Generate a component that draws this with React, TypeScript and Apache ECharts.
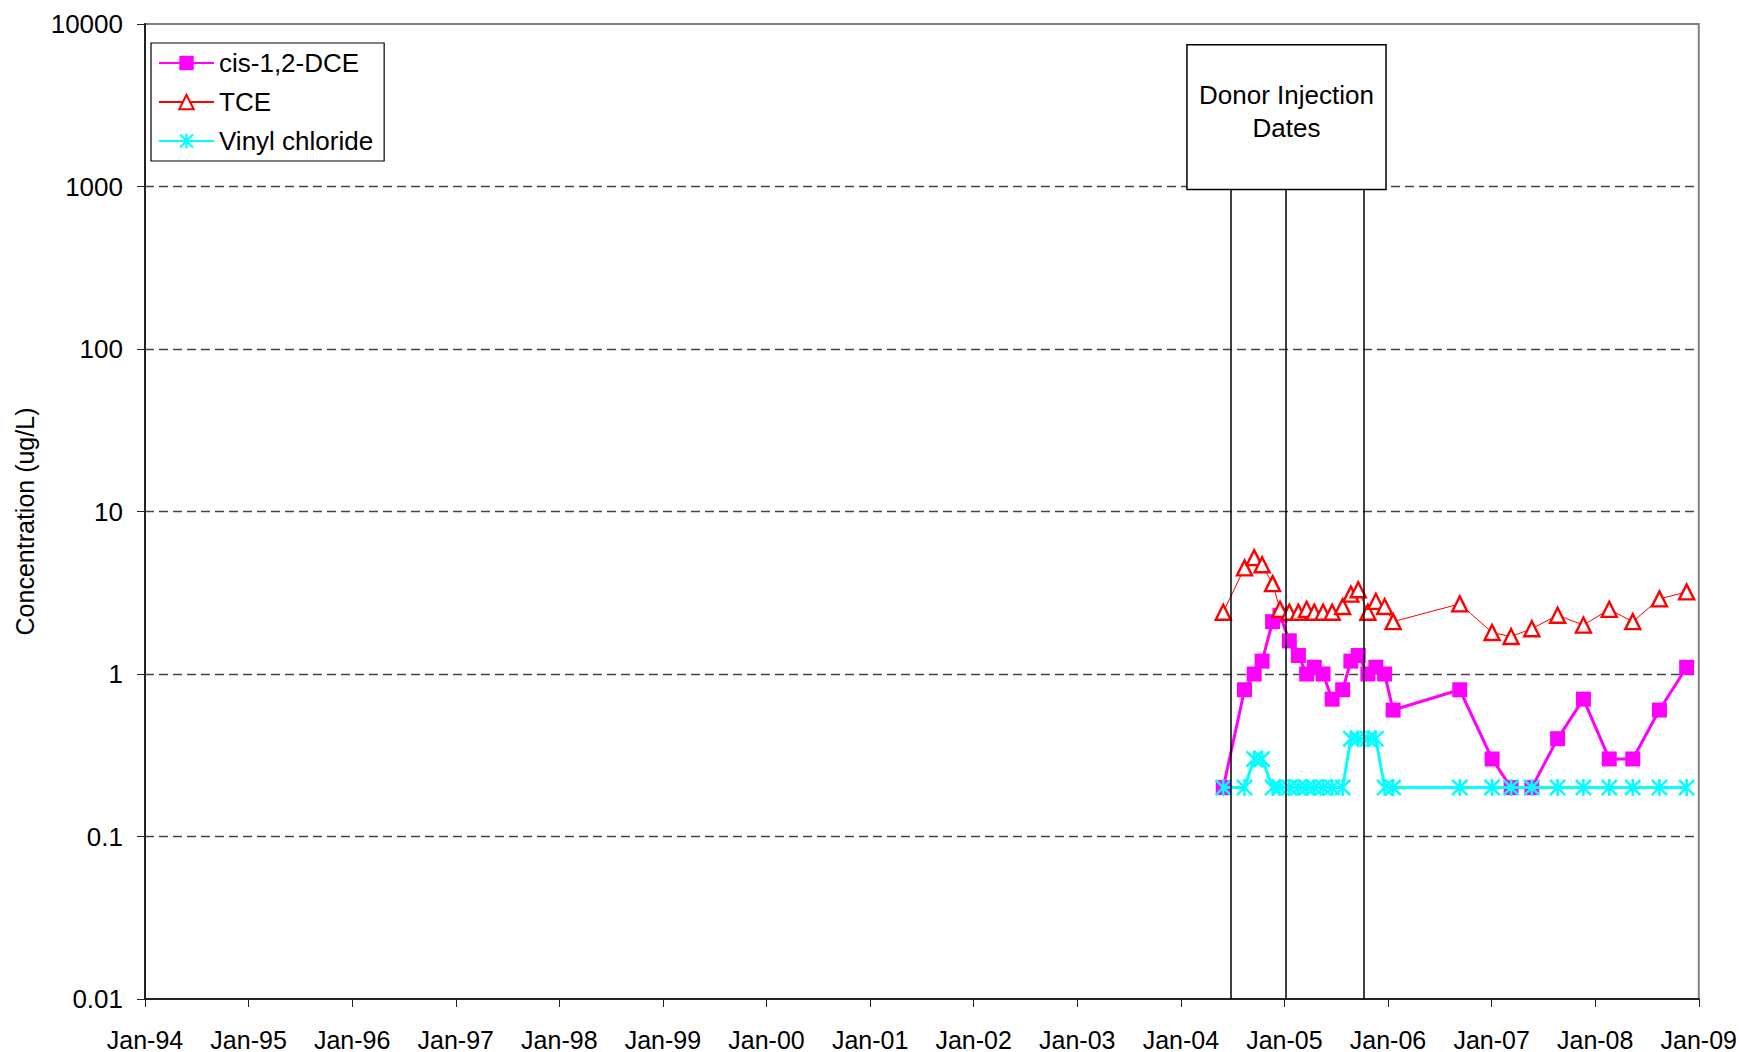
import React, { useEffect, useRef } from 'react';
import * as echarts from 'echarts';

// ---- Data ----
const sampleDates: string[] = [
  '2004-05-30', '2004-08-13', '2004-09-16', '2004-10-14', '2004-11-20', '2004-12-16',
  '2005-01-18', '2005-02-19', '2005-03-20', '2005-04-16', '2005-05-17', '2005-06-18',
  '2005-07-25', '2005-08-23', '2005-09-18', '2005-10-22', '2005-11-19', '2005-12-20',
  '2006-01-19', '2006-09-11', '2007-01-03', '2007-03-11', '2007-05-23', '2007-08-22',
  '2007-11-21', '2008-02-20', '2008-05-13', '2008-08-15', '2008-11-19',
];
const cisDCE: number[] = [
  0.2, 0.8, 1.0, 1.2, 2.1, 2.3, 1.6, 1.3, 1.0, 1.1, 1.0, 0.7, 0.8, 1.2, 1.3, 1.0, 1.1, 1.0,
  0.6, 0.8, 0.3, 0.2, 0.2, 0.4, 0.7, 0.3, 0.3, 0.6, 1.1,
];
const tce: number[] = [
  2.4, 4.5, 5.2, 4.7, 3.6, 2.5, 2.4, 2.4, 2.5, 2.4, 2.4, 2.4, 2.6, 3.1, 3.3, 2.4, 2.8, 2.6,
  2.1, 2.7, 1.8, 1.7, 1.9, 2.3, 2.0, 2.5, 2.1, 2.9, 3.2,
];
const vinylChloride: number[] = [
  0.2, 0.2, 0.3, 0.3, 0.2, 0.2, 0.2, 0.2, 0.2, 0.2, 0.2, 0.2, 0.2, 0.4, 0.4, 0.4, 0.4, 0.2,
  0.2, 0.2, 0.2, 0.2, 0.2, 0.2, 0.2, 0.2, 0.2, 0.2, 0.2,
];
const injectionDates: string[] = ['2004-06-27', '2005-01-07', '2005-10-09'];
const yTickValues: number[] = [0.01, 0.1, 1, 10, 100, 1000, 10000];
const seriesNames: string[] = ['cis-1,2-DCE', 'TCE', 'Vinyl chloride'];

// annotation box (data coordinates)
const boxStartDate = '2004-01-23';
const boxEndDate = '2005-12-25';
const boxBottomValue = 957;
const boxTopValue = 7460;
const boxText = 'Donor Injection\nDates';

const FONT = 'Arial, "Liberation Sans", sans-serif';
const DAY = 86400000;
const YEAR = 365.25 * DAY;
const X_MIN = Date.UTC(1994, 0, 1);
const X_MAX = X_MIN + 15 * YEAR;

const t = (s: string) => Date.parse(s);
const pairs = (vals: number[]) => sampleDates.map((d, i) => [t(d), vals[i]]);

const ASTERISK =
  'path://M8.5,0L11.5,0L11.5,20L8.5,20Z M2.1,0L20,17.9L17.9,20L0,2.1Z M17.9,0L20,2.1L2.1,20L0,17.9Z';

export default function App() {
  const ref = useRef<HTMLDivElement>(null);
  useEffect(() => {
    const chart = echarts.init(ref.current!, null, { renderer: 'svg' });
    const option: any = {
      animation: false,
      backgroundColor: '#ffffff',
      grid: {
        left: 145,
        right: 40,
        top: 24,
        bottom: 52,
        show: true,
        borderColor: '#808080',
        borderWidth: 2,
        backgroundColor: 'transparent',
      },
      legend: {
        data: seriesNames,
        orient: 'vertical',
        left: 151,
        top: 43,
        itemWidth: 55,
        itemHeight: 18,
        itemGap: 13,
        padding: [7, 11, 7, 7],
        borderColor: '#000',
        borderWidth: 1.2,
        backgroundColor: '#fff',
        textStyle: { fontSize: 26, fontFamily: FONT, color: '#000' },
      },
      xAxis: {
        type: 'value',
        min: X_MIN,
        max: X_MAX,
        interval: YEAR,
        axisLine: { show: true, lineStyle: { color: '#222', width: 2 } },
        axisTick: { show: true, length: 8, lineStyle: { color: '#222', width: 1 } },
        splitLine: { show: false },
        axisLabel: {
          fontSize: 25,
          fontFamily: FONT,
          color: '#000',
          margin: 28,
          formatter: (v: number) => {
            const d = new Date(v + 0.5 * DAY);
            return 'Jan-' + String(d.getUTCFullYear()).slice(2);
          },
        },
      },
      yAxis: {
        type: 'log',
        logBase: 10,
        min: yTickValues[0],
        max: yTickValues[yTickValues.length - 1],
        interval: 1,
        name: 'Concentration (ug/L)',
        nameLocation: 'middle',
        nameGap: 108,
        nameTextStyle: { fontSize: 25, fontFamily: FONT, color: '#000', padding: [0, 20, 0, 0] },
        axisLine: { show: true, lineStyle: { color: '#222', width: 2 } },
        axisTick: { show: true, length: 8, lineStyle: { color: '#222', width: 1 } },
        axisLabel: {
          fontSize: 26,
          fontFamily: FONT,
          color: '#000',
          margin: 22,
          formatter: (v: number) => String(parseFloat(Number(v).toPrecision(6))),
        },
        splitLine: {
          show: true,
          showMinLine: false,
          showMaxLine: false,
          lineStyle: { color: '#444', width: 1.3, type: [9, 5] },
        },
      },
      series: [
        {
          name: seriesNames[0],
          type: 'line',
          data: pairs(cisDCE),
          symbol: 'rect',
          symbolSize: 15,
          itemStyle: { color: '#FF00FF' },
          lineStyle: { color: '#FF00FF', width: 3 },
          z: 2,
          markArea: {
            silent: true,
            itemStyle: { color: '#ffffff', borderColor: '#000', borderWidth: 1.5 },
            label: {
              show: true,
              position: 'inside',
              offset: [0, -6],
              formatter: boxText,
              fontSize: 26,
              lineHeight: 33,
              fontFamily: FONT,
              color: '#000',
            },
            data: [
              [
                { coord: [t(boxStartDate), boxTopValue] },
                { coord: [t(boxEndDate), boxBottomValue] },
              ],
            ],
          },
          markLine: {
            silent: true,
            symbol: 'none',
            label: { show: false },
            lineStyle: { color: '#000', width: 1.5, type: 'solid' },
            data: injectionDates.map((d) => [
              { coord: [t(d), yTickValues[0]] },
              { coord: [t(d), boxBottomValue] },
            ]),
          },
        },
        {
          name: seriesNames[1],
          type: 'line',
          data: pairs(tce),
          symbol: 'triangle',
          symbolSize: 15,
          itemStyle: { color: '#ffffff', borderColor: '#FF0000', borderWidth: 2.4 },
          lineStyle: { color: '#FF0000', width: 1 },
          z: 3,
        },
        {
          name: seriesNames[2],
          type: 'line',
          data: pairs(vinylChloride),
          symbol: ASTERISK,
          symbolSize: 17,
          itemStyle: { color: '#00FFFF' },
          lineStyle: { color: '#00FFFF', width: 3 },
          z: 4,
        },
      ],
    };
    chart.setOption(option);
    return () => chart.dispose();
  }, []);
  return (
    <div
      ref={ref}
      style={{ position: 'absolute', left: 0, top: 0, width: 1740, height: 1052, background: '#fff' }}
    />
  );
}
